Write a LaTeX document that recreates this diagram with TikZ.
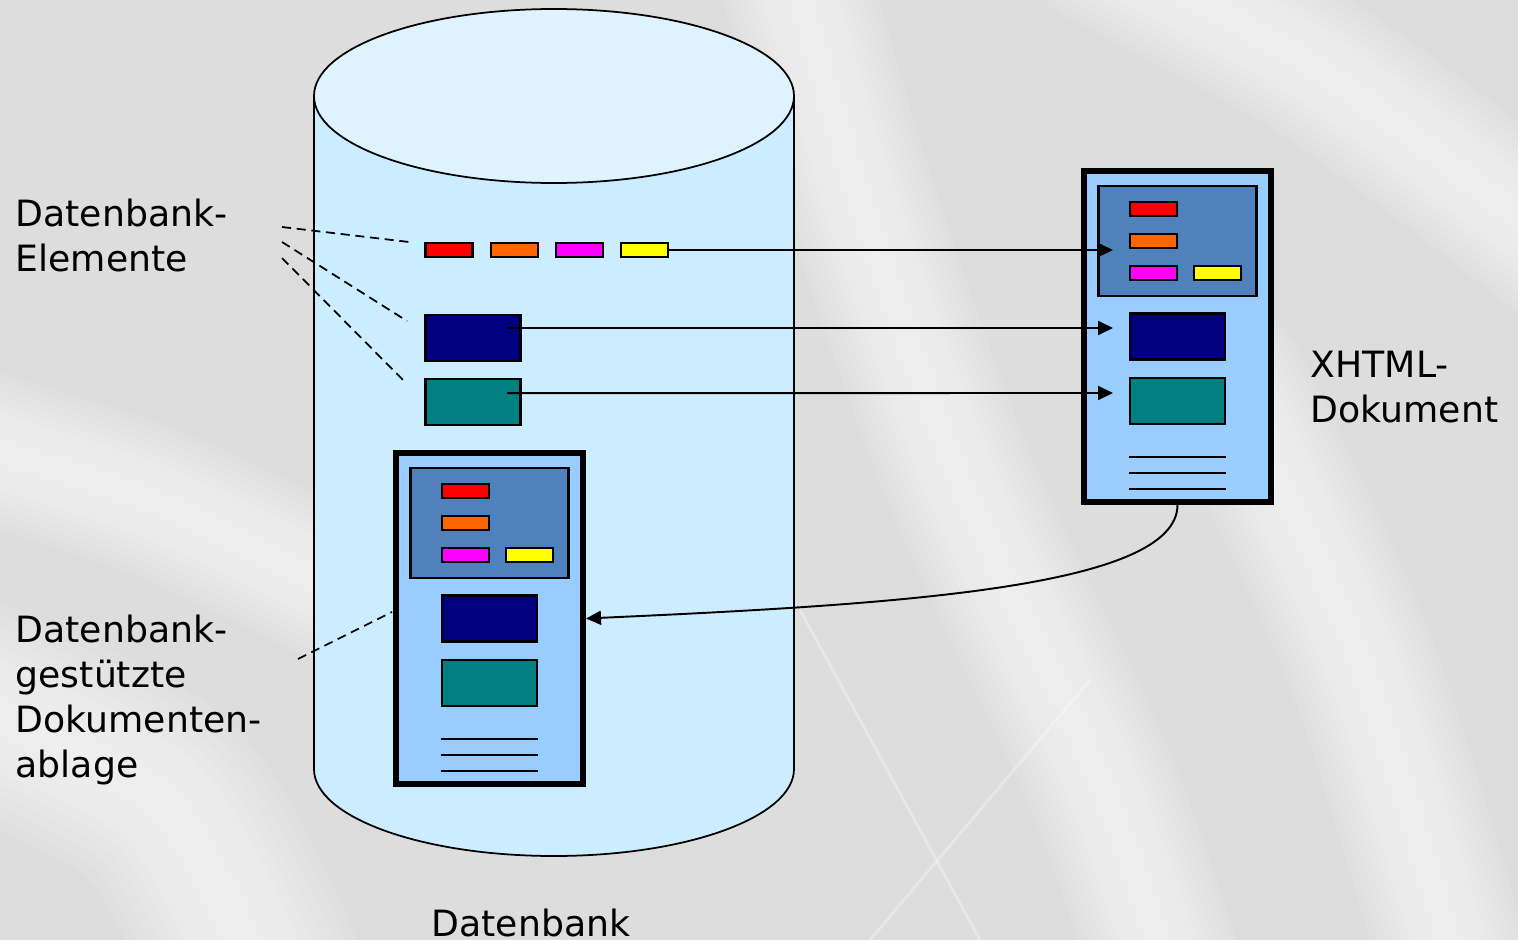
\documentclass[tikz,border=0pt]{standalone}
\usepackage{fontspec}
\setmainfont{DejaVu Sans}
\usetikzlibrary{arrows.meta,positioning,calc}

\definecolor{bggray}{HTML}{DDDDDD}
\definecolor{dbbody}{HTML}{CCECFF}
\definecolor{dbtop}{HTML}{DFF3FF}
\definecolor{docfill}{HTML}{99CCFF}
\definecolor{hdrfill}{HTML}{4F81BD}
\definecolor{elnavy}{HTML}{000080}
\definecolor{elteal}{HTML}{008080}
\definecolor{elorange}{HTML}{FF6600}
\definecolor{elmagenta}{HTML}{FF00FF}
\definecolor{elyellow}{HTML}{FFFF00}
\definecolor{elred}{HTML}{FF0000}

\begin{document}
\begin{tikzpicture}[
  font=\fontsize{10.3}{12.8}\selectfont,
  >={Triangle[length=1.5mm,width=1.4mm]},
  elem/.style={rectangle, draw=black, line width=0.6pt, inner sep=0pt,
               minimum width=0.47cm, minimum height=0.145cm},
  bigelem/.style={rectangle, draw=black, line width=0.6pt, inner sep=0pt,
                  minimum width=0.95cm, minimum height=0.46cm},
  docframe/.style={rectangle, draw=black, fill=docfill, line width=1.6pt,
                   inner sep=0pt, minimum width=1.874cm, minimum height=3.31cm},
  hdrbox/.style={rectangle, draw=black, fill=hdrfill, line width=0.6pt,
                 inner sep=0pt, minimum width=1.58cm, minimum height=1.10cm},
  lbl/.style={align=left, inner sep=0pt},
  conn/.style={->, draw=black, line width=0.55pt},
  leader/.style={draw=black, line width=0.5pt, dash pattern=on 2.6pt off 1.6pt},
  sheen/.style={white, opacity=0.09, line cap=round},
  xdoc/.pic={
    \node[docframe] (-frame) at (0,0) {};
    \node[hdrbox] (-hdr) at (0,0.955) {};
    \node[elem, fill=elred] (-red) at (-0.24,1.275) {};
    \node[elem, fill=elorange] (-orange) at (-0.24,0.955) {};
    \node[elem, fill=elmagenta] (-mag) at (-0.24,0.635) {};
    \node[elem, fill=elyellow] (-yel) at (0.40,0.635) {};
    \node[bigelem, fill=elnavy] (-navy) at (0,0) {};
    \node[bigelem, fill=elteal] (-teal) at (0,-0.645) {};
    \foreach \ly in {-1.205,-1.365,-1.525}
      \draw[line width=0.6pt] (-0.485,\ly) -- (0.485,\ly);
    \coordinate (-in1) at (-0.645,0.865);
    \coordinate (-in2) at (-0.645,0.085);
    \coordinate (-in3) at (-0.645,-0.565);
  },
]
\useasboundingbox (0,0) rectangle (15.18,9.40);

% background with soft white sheen
\fill[bggray] (0,0) rectangle (15.18,9.40);
\begin{scope}
\clip (0,0) rectangle (15.18,9.40);
\foreach \w in {1.5,1.35,...,0.15}{
  \draw[sheen, line width=\w cm]
    plot[smooth] coordinates {(7.9,9.8) (8.6,7.4) (9.6,4.6) (11.0,1.6) (11.7,-0.4)};
  \draw[sheen, line width=\w cm]
    plot[smooth] coordinates {(11.0,9.9) (13.2,8.7) (15.6,6.9)};
  \draw[sheen, line width=\w cm]
    plot[smooth] coordinates {(12.3,5.6) (13.6,2.8) (14.6,-0.4)};
  \draw[sheen, line width=\w cm]
    plot[smooth] coordinates {(-0.4,5.0) (1.5,4.4) (3.2,3.6)};
  \draw[sheen, line width=1.4*\w cm]
    plot[smooth] coordinates {(-0.4,2.4) (1.6,1.4) (2.6,-0.4)};
}
\draw[white, opacity=0.3, line width=0.8pt] (8.0,3.3) -- (9.8,0);
\draw[white, opacity=0.3, line width=0.8pt] (10.9,2.6) -- (8.7,0);
\end{scope}

% database cylinder
\draw[fill=dbbody, line width=0.5pt] (3.14,8.44) -- (3.14,1.71)
  arc[start angle=180, end angle=360, x radius=2.40, y radius=0.87] -- (7.94,8.44);
\draw[fill=dbtop, line width=0.5pt] (5.54,8.44) ellipse [x radius=2.40, y radius=0.87];

% database elements
\node[elem, fill=elred] (dbred) at (4.49,6.90) {};
\node[elem, fill=elorange, right=0.16cm of dbred] (dborange) {};
\node[elem, fill=elmagenta, right=0.16cm of dborange] (dbmag) {};
\node[elem, fill=elyellow, right=0.16cm of dbmag] (dbyel) {};
\node[bigelem, fill=elnavy] (dbnavy) at (4.73,6.02) {};
\node[bigelem, fill=elteal, below=0.16cm of dbnavy] (dbteal) {};
\coordinate (navyout) at ($(dbnavy.center)+(0.34,0.10)$);
\coordinate (tealout) at ($(dbteal.center)+(0.34,0.09)$);

% documents
\pic (xd) at (11.775,6.035) {xdoc};
\pic (ld) at (4.895,3.215) {xdoc};

% labels
\node[lbl, anchor=north west] (elemlbl) at (0.15,7.42) {Datenbank-\\Elemente};
\node[lbl, anchor=north west] (xdoclbl) at (13.10,5.90) {XHTML-\\Dokument};
\node[lbl, anchor=north west] (ablagelbl) at (0.15,3.26)
  {Datenbank-\\gestützte\\Dokumenten-\\ablage};
\node[anchor=base, inner sep=0pt] (dblbl) at (5.31,0.04) {Datenbank};

% leader lines
\coordinate (elA) at (2.82,7.13);
\coordinate (elB) at (2.82,6.98);
\coordinate (elC) at (2.82,6.82);
\coordinate (elendA) at (4.09,6.98);
\coordinate (elendB) at (4.07,6.19);
\coordinate (elendC) at (4.06,5.57);
\coordinate (abA) at (2.98,2.81);
\coordinate (abend) at (3.92,3.28);
\draw[leader] (elA) -- (elendA);
\draw[leader] (elB) -- (elendB);
\draw[leader] (elC) -- (elendC);
\draw[leader] (abA) -- (abend);

% connectors
\draw[conn] (dbyel.east) -- (xd-in1);
\draw[conn] (navyout) -- (xd-in2);
\draw[conn] (tealout) -- (xd-in3);
\draw[conn] (xd-frame.south) .. controls +(0,-0.83) and +(3.1,0.14) .. (ld-frame.east);
\end{tikzpicture}
\end{document}
